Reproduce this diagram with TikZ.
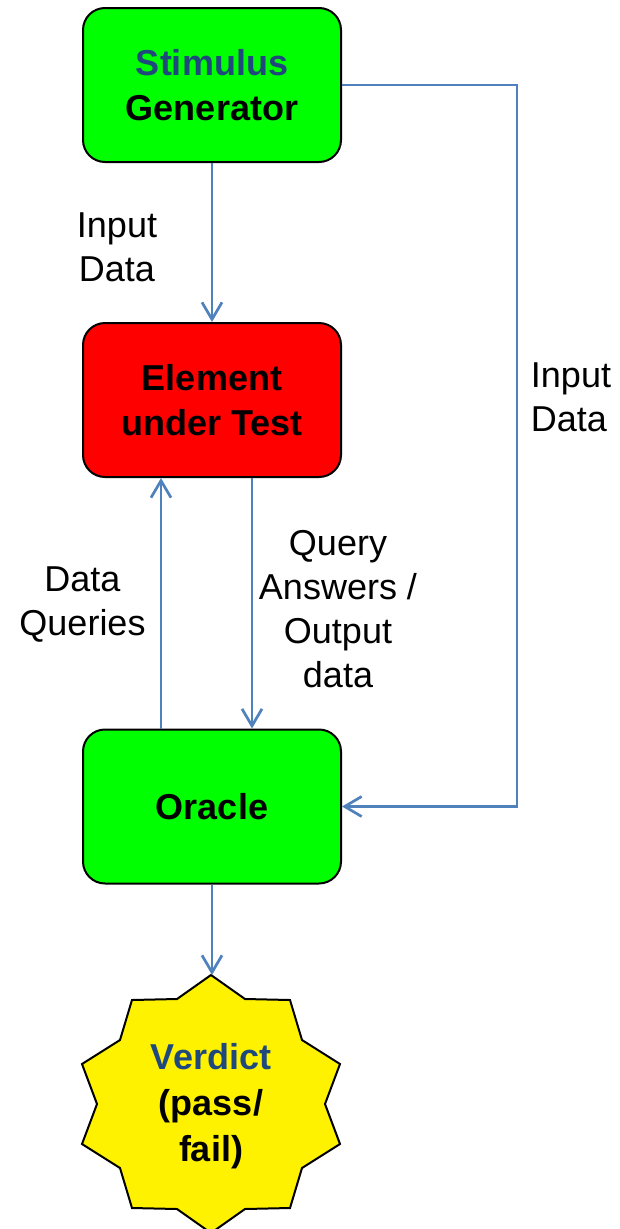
\documentclass[tikz,border=0pt]{standalone}
\usepackage{fontspec}
\setmainfont{Liberation Sans}
\usetikzlibrary{arrows.meta}
\definecolor{arrowblue}{HTML}{4F81BD}
\definecolor{titleblue}{HTML}{1F497D}
\begin{document}
\begin{tikzpicture}[x=1pt,y=-1pt,
  box/.style={draw=black, line width=2pt, rounded corners=22pt, minimum width=258pt, minimum height=154pt, align=center, font=\fontsize{36}{45}\selectfont\bfseries, inner sep=0pt},
  conn/.style={draw=arrowblue, line width=2.7pt, -{Straight Barb[length=17pt,width=20pt,line width=2.7pt]}},
  lbl/.style={font=\fontsize{36}{44}\selectfont, inner sep=0pt}]
\clip (0,0) rectangle (619,1229);
\node[box, fill=green] (stim) at (212,85) {\textcolor{titleblue}{Stimulus}\\Generator};
\node[box, fill=red] (eut) at (212,400) {Element\\under Test};
\node[box, fill=green] (oracle) at (212,806.5) {Oracle};
% star
\draw[fill=yellow, line width=2pt, line join=miter, shift={(211,1104)}]
  (0,-129) -- (34,-105) -- (79,-104) -- (91,-64) -- (129,-40) -- (114,0) -- (129,40) -- (91,64) -- (79,104) -- (34,105) -- (0,129)
  -- (-34,105) -- (-79,104) -- (-91,64) -- (-129,40) -- (-114,0) -- (-129,-40) -- (-91,-64) -- (-79,-104) -- (-34,-105) -- cycle;
\node[align=center, inner sep=0pt, font=\fontsize{36}{46}\selectfont\bfseries] (verdict) at (211,1106) {\textcolor{titleblue}{Verdict}\\(pass/\\fail)};
\coordinate (startop) at (212,975);
\coordinate (c1) at (517,85);
\coordinate (c2) at (517,806.5);
% connectors
\draw[conn] (stim.south) -- (eut.north);
\draw[conn] (stim.east) -- (c1) -- (c2) -- (oracle.east);
\draw[conn] ([xshift=40pt]eut.south) -- ([xshift=40pt]oracle.north);
\draw[conn] ([xshift=-51pt]oracle.north) -- ([xshift=-51pt]eut.south);
\draw[conn] (oracle.south) -- (startop);
% labels
\node[lbl, align=center] (l1) at (117,247) {Input\\Data};
\node[lbl, align=left] (l2) at (571,397) {Input\\Data};
\node[lbl, align=center] (l3) at (82.5,605) {Data\\Queries};
\node[lbl, align=center] (l4) at (338,609) {Query\\Answers /\\Output\\data};
\end{tikzpicture}
\end{document}
